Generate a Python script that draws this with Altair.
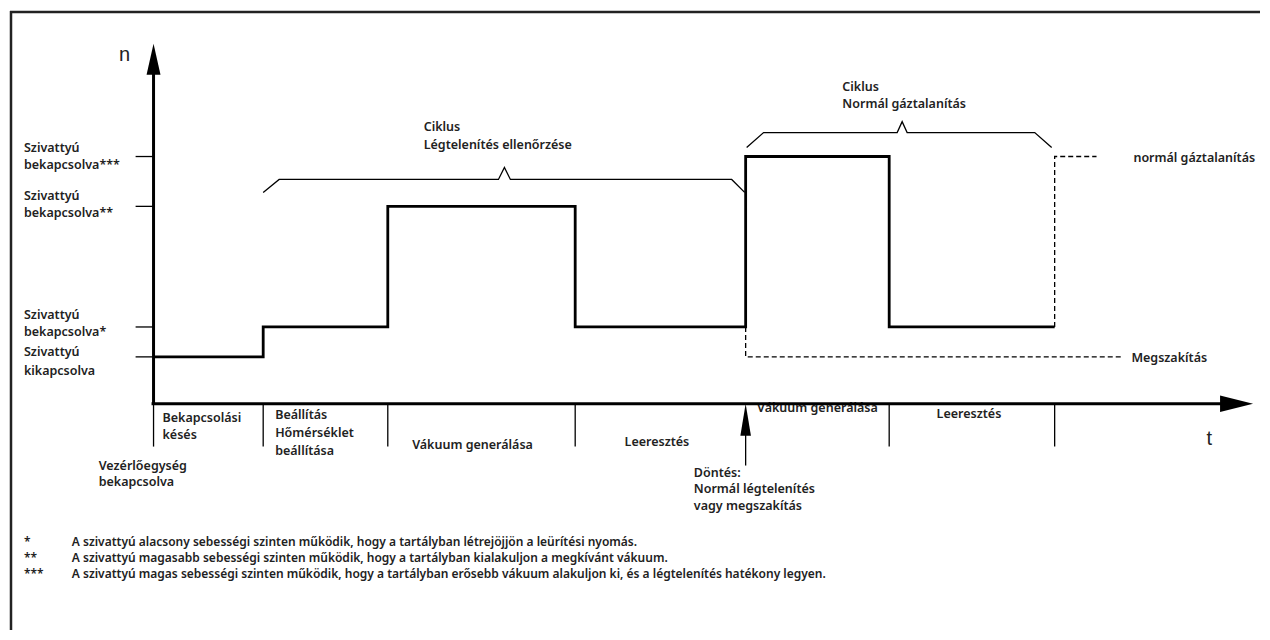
import altair as alt
import pandas as pd

FONT = "Noto Sans"

# ---- levels (n) and phases (t) in drawing units ----
level_n = [358, 328, 207, 157]

phase_bounds = [152, 262, 387, 575, 746, 890, 1056]
phase_level = [358, 328, 207, 328, 157, 328]

abort_t = [746, 746, 1125]
abort_n = [328, 358, 358]
cont_t = [1056, 1056, 1098]
cont_n = [328, 157, 157]

bracket1_t = [262, 278, 498, 504, 510, 732, 745]
bracket1_n = [193, 180, 180, 168, 180, 180, 193]
bracket2_t = [747, 764, 898, 903, 908, 1036, 1053]
bracket2_n = [148, 133, 133, 122, 133, 133, 148]

time_ticks = [152, 262, 387, 575, 890, 1056]
axis_origin_t = 150
axis_end_t = 1228
axis_n = 405
yaxis_top_n = 70

# text labels: (t, n, text, align)
bold_labels = [
    (22, 148, "Szivattyú", "left"), (22, 166, "bekapcsolva***", "left"),
    (22, 197, "Szivattyú", "left"), (22, 214, "bekapcsolva**", "left"),
    (22, 316, "Szivattyú", "left"), (22, 333, "bekapcsolva*", "left"),
    (22, 353, "Szivattyú", "left"), (22, 372, "kikapcsolva", "left"),
    (161, 419, "Bekapcsolási", "left"), (161, 436, "késés", "left"),
    (274, 416, "Beállítás", "left"), (274, 434, "Hőmérséklet", "left"),
    (274, 452, " beállítása", "left"),
    (472, 446, "Vákuum generálása", "center"),
    (657, 443, "Leeresztés", "center"),
    (818, 409, "Vákuum generálása", "center"),
    (970, 415, "Leeresztés", "center"),
    (97, 467, "Vezérlőegység", "left"), (97, 484, "bekapcsolva", "left"),
    (694, 474, "Döntés:", "left"), (694, 491, "Normál légtelenítés", "left"),
    (694, 508, "vagy megszakítás", "left"),
    (423, 127, "Ciklus", "left"), (423, 145, "Légtelenítés ellenőrzése", "left"),
    (843, 87, "Ciklus", "left"), (843, 104, "Normál gáztalanítás", "left"),
    (1135, 158, "normál gáztalanítás", "left"),
    (1133, 359, "Megszakítás", "left"),
]
foot_marks = ["*", "**", "***"]
foot_texts = [
    "A szivattyú alacsony sebességi szinten működik, hogy a tartályban létrejöjjön a leürítési nyomás.",
    "A szivattyú magasabb sebességi szinten működik, hogy a tartályban kialakuljon a megkívánt vákuum.",
    "A szivattyú magas sebességi szinten működik, hogy a tartályban erősebb vákuum alakuljon ki, és a légtelenítés hatékony legyen.",
]
foot_n = [544, 560, 576]
axis_letters = [(123, 55, "n"), (1211, 440, "t")]

# ---- scales ----
xs = alt.Scale(domain=[8, 1262], nice=False, zero=False)
ys = alt.Scale(domain=[8, 632], nice=False, zero=False, reverse=True)
X = lambda f: alt.X(f, type="quantitative", scale=xs, axis=None)
Y = lambda f: alt.Y(f, type="quantitative", scale=ys, axis=None)

def path_df(name, ts, ns):
    return pd.DataFrame({"path": name, "i": range(len(ts)), "t": ts, "n": ns})

# step curve
st, sn = [], []
for i, lv in enumerate(phase_level):
    st += [phase_bounds[i], phase_bounds[i + 1]]
    sn += [lv, lv]
step_df = path_df("step", st, sn)

dash_df = pd.concat([path_df("abort", abort_t, abort_n), path_df("cont", cont_t, cont_n)])
brack_df = pd.concat([path_df("b1", bracket1_t, bracket1_n), path_df("b2", bracket2_t, bracket2_n)])

def lines(df, width, dash=None):
    kw = dict(color="black", strokeWidth=width, strokeCap="butt", strokeJoin="miter")
    if dash:
        kw["strokeDash"] = dash
    return alt.Chart(df).mark_line(**kw).encode(
        x=X("t"), y=Y("n"), detail="path:N", order="i:Q")

def rules(df, width, color="black"):
    return alt.Chart(df).mark_rule(color=color, strokeWidth=width, strokeCap="butt").encode(
        x=X("t"), x2="t2:Q", y=Y("n"), y2="n2:Q")

# frame (top and left edges)
frame_df = pd.DataFrame({"t": [8, 9], "t2": [1262, 9], "n": [12, 11], "n2": [12, 632]})
# axes
axis_df = pd.DataFrame({"t": [axis_origin_t, 152], "t2": [axis_end_t, 152],
                        "n": [axis_n, axis_n], "n2": [axis_n, yaxis_top_n]})
# thin ticks
tick_rows = [(t, t, axis_n, 448) for t in time_ticks]
tick_rows += [(134, 152, n, n) for n in level_n]
tick_rows += [(746, 746, 436, 467)]
tick_df = pd.DataFrame(tick_rows, columns=["t", "t2", "n", "n2"])

arrow_up = "M0,-1L0.45,1L-0.45,1Z"
arrow_up_narrow = "M0,-1L0.33,1L-0.33,1Z"
arrow_right = "M1,0L-1,0.5L-1,-0.5Z"

def arrow(t, n, shape, size):
    return alt.Chart(pd.DataFrame({"t": [t], "n": [n]})).mark_point(
        shape=shape, size=size, filled=True, color="black", opacity=1, strokeWidth=0
    ).encode(x=X("t"), y=Y("n"))

lab_df = pd.DataFrame(bold_labels, columns=["t", "n", "text", "align"])
def text_layer(df, align, size, weight, family=FONT):
    return alt.Chart(df[df["align"] == align]).mark_text(
        align=align, baseline="middle", font=family, fontSize=size,
        fontWeight=weight, color="#222222"
    ).encode(x=X("t"), y=Y("n"), text="text:N")

foot_df = pd.DataFrame({"t": 22, "n": foot_n, "text": foot_marks, "align": "left"})
foot_df2 = pd.DataFrame({"t": 70, "n": foot_n, "text": foot_texts, "align": "left"})
letters_df = pd.DataFrame(axis_letters, columns=["t", "n", "text"]).assign(align="center")

chart = alt.layer(
    text_layer(lab_df, "left", 12.5, 600),
    text_layer(lab_df, "center", 12.5, 600),
    text_layer(foot_df, "left", 12, 600),
    text_layer(foot_df2, "left", 12, 600),
    text_layer(letters_df, "center", 20, "normal", "Liberation Sans"),
    rules(frame_df, 2.5, "#222222"),
    rules(tick_df, 1.3),
    rules(axis_df, 3),
    lines(brack_df, 1.3),
    lines(dash_df, 1.3, [5, 3]),
    lines(step_df, 2.8),
    arrow(152, 59.5, arrow_up, 961),
    arrow(1238.5, axis_n, arrow_right, 1089),
    arrow(746, 421, arrow_up_narrow, 1024),
).properties(
    width=1254, height=624,
    autosize=alt.AutoSizeParams(type="fit", contains="padding"),
    padding=0, background="white",
).configure_view(stroke=None)

chart.save("out.html", embed_options={"renderer": "svg", "actions": False})
